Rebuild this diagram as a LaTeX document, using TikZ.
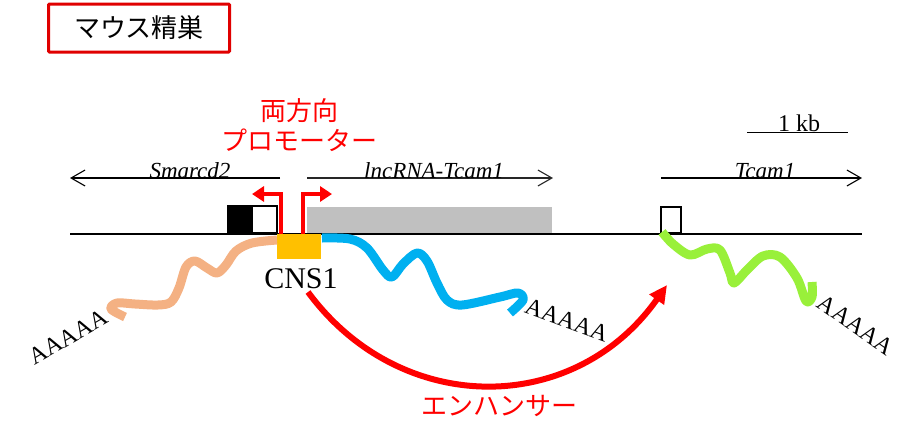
\documentclass[tikz,border=0pt]{standalone}
\usepackage{fontspec}
\setmainfont{Liberation Serif}
\newfontfamily\jp{Noto Sans CJK JP}
\usetikzlibrary{arrows.meta}
\definecolor{salmon}{HTML}{F4B183}
\definecolor{skyb}{HTML}{00B0F0}
\definecolor{lgreen}{HTML}{99F03A}
\definecolor{cnsor}{HTML}{FFC000}
\definecolor{exgray}{HTML}{C0C0C0}
\definecolor{titred}{HTML}{E00000}
\begin{document}
\begin{tikzpicture}[x=1pt,y=-1pt,
  genearrow/.style={line width=1.1pt},
  barb/.style={-{Straight Barb[length=14pt,width=16pt,line width=1.1pt]}},
  wave/.style={line width=9pt,line join=round,line cap=butt},
  exonbox/.style={draw,line width=1.4pt,anchor=north west,inner sep=0pt,outer sep=0pt},
  jptext/.style={font=\jp\fontsize{26}{30}\selectfont,inner sep=0pt},
  genelabel/.style={font=\itshape\fontsize{23}{26}\selectfont,anchor=base,inner sep=0pt},
  polya/.style={font=\fontsize{24}{28}\selectfont,inner sep=0pt},
  prom/.style={draw=red,line width=4.5pt,-{Triangle[length=12pt,width=15pt]}},
  enh/.style={draw=red,line width=6pt,-{Triangle[length=18pt,width=17pt]}}]
\useasboundingbox (0,0) rectangle (922,437);

% title
\node[draw=titred,line width=3pt,rounded corners=1pt,minimum width=181pt,minimum height=48pt,inner sep=0pt,jptext] (title) at (139,28) {マウス精巣};

% promoter label
\node[jptext,text=red] (bidir) at (299,111) {両方向};
\node[jptext,text=red] (promlab) at (299,140) {プロモーター};

% scale bar
\coordinate (sbL) at (747,132);
\coordinate (sbR) at (848,132);
\draw[line width=1pt] (sbL) -- (sbR);
\node[font=\fontsize{24}{28}\selectfont,anchor=base,inner sep=0pt] (kb) at (799,131) {1 kb};

% gene arrows
\coordinate (smS) at (280,178);
\coordinate (smE) at (70,178);
\draw[genearrow,barb] (smS) -- (smE);
\node[genelabel] (smlab) at (190,178) {Smarcd2};

\coordinate (lnS) at (307,178);
\coordinate (lnE) at (553,178);
\draw[genearrow,barb,draw=black!85] (lnS) -- (lnE);
\node[genelabel] (lnlab) at (434,178) {lncRNA-Tcam1};

\coordinate (tcS) at (661,178);
\coordinate (tcE) at (862,178);
\draw[genearrow,barb] (tcS) -- (tcE);
\node[genelabel] (tclab) at (765,178) {Tcam1};

% exons
\node[exonbox,fill=black,minimum width=24pt,minimum height=27pt] (ex1) at (228,206) {};
\node[exonbox,fill=white,minimum width=25pt,minimum height=27pt] (ex2) at (252,206) {};
\node[anchor=north west,inner sep=0pt,outer sep=0pt,fill=exgray,minimum width=245pt,minimum height=26pt] (lnex) at (307,207) {};
\node[exonbox,fill=white,minimum width=20pt,minimum height=26pt] (tcex) at (661,207) {};

% main line
\coordinate (mlL) at (70,233.5);
\coordinate (mlR) at (862,233.5);
\draw[line width=2pt] (mlL) -- (mlR);

% CNS1
\node[anchor=north west,inner sep=0pt,outer sep=0pt,fill=cnsor,minimum width=44pt,minimum height=25pt] (cns) at (277,234) {};
\node[font=\fontsize{30}{34}\selectfont,anchor=base,inner sep=0pt] (cnslab) at (301,288) {CNS1};

% promoter arrows
\coordinate (pL0) at (281,234);
\coordinate (pL1) at (252,194);
\coordinate (pR0) at (303,234);
\coordinate (pR1) at (332,194);
\draw[prom] (pL0) |- (pL1);
\draw[prom] (pR0) |- (pR1);

% transcripts
\draw[wave,salmon] plot[smooth,tension=0.55] coordinates {(277,240) (252,243) (236,251) (226,265) (217,273) (207,268) (195,261) (186,267) (179,288) (171,302) (158,305) (135,304) (117,303) (111,309) (125,317)};
\draw[wave,skyb] plot[smooth,tension=0.55] coordinates {(322,238) (350,239) (367,248) (383,270) (392,277) (403,264) (417,253) (427,261) (437,283) (447,300) (462,305) (500,297) (518,293) (523,300) (510,313)};
\draw[wave,lgreen] plot[smooth,tension=0.55] coordinates {(662,232) (673,244) (690,255) (707,249) (720,250) (730,273) (734,283) (747,270) (763,256) (780,257) (797,278) (806,301) (812,297) (812,282)};

% poly-A tails
\node[polya,rotate=30] (pa1) at (68,337) {AAAAA};
\node[polya,rotate=-20] (pa2) at (567,320) {AAAAA};
\node[polya,rotate=-35] (pa3) at (856,325) {AAAAA};

% enhancer arc
\coordinate (enS) at (308,292);
\coordinate (enE) at (667,285);
\draw[enh] (enS) .. controls (400,417) and (574,417) .. (enE);
\node[jptext,text=red] (enhlab) at (499,406) {エンハンサー};
\end{tikzpicture}
\end{document}
